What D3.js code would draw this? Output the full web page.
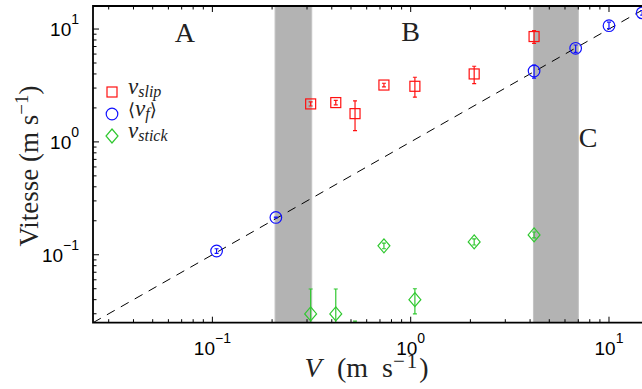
<!DOCTYPE html>
<html><head><meta charset="utf-8">
<script src="https://cdn.jsdelivr.net/npm/d3@7"></script>
<style>body{margin:0;background:#fff}svg{display:block}text{white-space:pre}</style>
</head><body>
<svg id="c" width="642" height="389"></svg>
<script>
// ---- data ----
const vfX = [0.105, 0.209, 4.19, 6.79, 10.0, 14.7];
const vfY = [0.108, 0.214, 4.25, 6.75, 10.7, 13.9];
const vfLo = [0.103, 0.212, 3.68, 6.22, 10.1, 13.3];
const vfHi = [0.113, 0.216, 4.8, 7.22, 11.5, 14.6];

const slipX = [0.313, 0.419, 0.524, 0.733, 1.05, 2.09, 4.19];
const slipY = [2.17, 2.23, 1.78, 3.19, 3.11, 4.0, 8.58];
const slipLo = [2.08, 2.13, 1.26, 3.07, 2.49, 3.28, 7.47];
const slipHi = [2.26, 2.33, 2.31, 3.31, 3.74, 4.68, 9.69];

const stickX = [0.313, 0.419, 0.524, 0.733, 1.05, 2.09, 4.19];
const stickY = [0.0299, 0.0299, 0.016, 0.120, 0.040, 0.130, 0.150];
const stickLo = [0.012, 0.012, 0.010, 0.113, 0.0299, 0.122, 0.141];
const stickHi = [0.0497, 0.0497, 0.0258, 0.127, 0.050, 0.138, 0.159];

const bands = [[0.207, 0.317], [4.16, 7.01]];
const regionLabels = ["A", "B", "C"];
const regionX = [0.0727, 1.0, 7.84];
const regionY = [7.6, 7.76, 0.90];

const xMajor = [0.1, 1, 10];
const xMajorExp = ["\u22121", "0", "1"];
const yMajor = [0.1, 1, 10];
const yMajorExp = ["\u22121", "0", "1"];
const xMinor = [0.03,0.04,0.05,0.06,0.07,0.08,0.09,0.2,0.3,0.4,0.5,0.6,0.7,0.8,0.9,2,3,4,5,6,7,8,9,20];
const yMinor = [0.03,0.04,0.05,0.06,0.07,0.08,0.09,0.2,0.3,0.4,0.5,0.6,0.7,0.8,0.9,2,3,4,5,6,7,8,9];

const xDomain = [0.025, 20];
const yDomain = [0.025, 16];

// ---- layout ----
const L = 93, T = 6, B = 322.7;
const decadeX = 198.3;
const R = L + Math.log10(xDomain[1] / xDomain[0]) * decadeX;

const x = d3.scaleLog().domain(xDomain).range([L, R]);
const y = d3.scaleLog().domain(yDomain).range([B, T]);

const svg = d3.select("#c");
svg.append("defs").append("clipPath").attr("id", "pc")
  .append("rect").attr("x", L).attr("y", T).attr("width", R - L).attr("height", B - T);

const plot = svg.append("g").attr("clip-path", "url(#pc)");

// bands
plot.selectAll("rect.band").data(bands).enter().append("rect")
  .attr("x", d => x(d[0])).attr("width", d => x(d[1]) - x(d[0]))
  .attr("y", T).attr("height", B - T)
  .attr("fill", "#b3b3b3").attr("stroke", "#c4c4c4").attr("stroke-width", 1);

// dashed y = x line
plot.append("line")
  .attr("x1", x(xDomain[0])).attr("y1", y(xDomain[0]))
  .attr("x2", x(20)).attr("y2", y(20))
  .attr("stroke", "#000").attr("stroke-width", 1)
  .attr("stroke-dasharray", "9,7");

function errBars(g, xs, lo, hi, color) {
  xs.forEach((xv, i) => {
    const cx = x(xv);
    g.append("line").attr("x1", cx).attr("x2", cx).attr("y1", y(lo[i])).attr("y2", y(hi[i]))
      .attr("stroke", color).attr("stroke-width", 1.2);
    [lo[i], hi[i]].forEach(v => {
      g.append("line").attr("x1", cx - 2).attr("x2", cx + 2).attr("y1", y(v)).attr("y2", y(v))
        .attr("stroke", color).attr("stroke-width", 1.2);
    });
  });
}

const red = "#ff1010", blue = "#1010ff", green = "#30c830";

// v_slip squares
const gs = plot.append("g");
errBars(gs, slipX, slipLo, slipHi, red);
slipX.forEach((xv, i) => {
  gs.append("rect").attr("x", x(xv) - 5).attr("y", y(slipY[i]) - 5).attr("width", 10).attr("height", 10)
    .attr("fill", "none").attr("stroke", red).attr("stroke-width", 1.2);
});

// v_f circles
const gc = plot.append("g");
errBars(gc, vfX, vfLo, vfHi, blue);
vfX.forEach((xv, i) => {
  gc.append("circle").attr("cx", x(xv)).attr("cy", y(vfY[i])).attr("r", 5.8)
    .attr("fill", "none").attr("stroke", blue).attr("stroke-width", 1.2);
});

// v_stick diamonds
const gd = plot.append("g");
errBars(gd, stickX, stickLo, stickHi, green);
stickX.forEach((xv, i) => {
  const cx = x(xv), cy = y(stickY[i]), r = 7;
  gd.append("path").attr("d", `M${cx},${cy - r}L${cx + r * 0.85},${cy}L${cx},${cy + r}L${cx - r * 0.85},${cy}Z`)
    .attr("fill", "none").attr("stroke", green).attr("stroke-width", 1.2);
});

const sf = "'Liberation Serif', 'DejaVu Serif', serif";

// region labels
plot.selectAll("text.reg").data(regionLabels).enter().append("text")
  .attr("x", (d, i) => x(regionX[i])).attr("y", (d, i) => y(regionY[i]))
  .attr("text-anchor", "middle")
  .style("font-family", sf).attr("font-size", 28)
  .attr("fill", "#222").text(d => d);

// axes frame & ticks
const ax = svg.append("g").attr("stroke", "#000");
ax.append("path").attr("d", `M${R},${T}H${L}V${B}H${R}`).attr("fill", "none").attr("stroke-width", 1.8);

function tick(xv, len, bottom) {
  const px = x(xv);
  if (bottom) ax.append("line").attr("x1", px).attr("x2", px).attr("y1", B).attr("y2", B - len).attr("stroke-width", 1);
  else ax.append("line").attr("x1", px).attr("x2", px).attr("y1", T).attr("y2", T + len).attr("stroke-width", 1);
}
xMajor.forEach(v => { tick(v, 6, true); tick(v, 6, false); });
xMinor.forEach(v => { tick(v, 3.5, true); tick(v, 3.5, false); });
yMajor.forEach(v => ax.append("line").attr("x1", L).attr("x2", L + 6).attr("y1", y(v)).attr("y2", y(v)).attr("stroke-width", 1));
yMinor.forEach(v => ax.append("line").attr("x1", L).attr("x2", L + 3.5).attr("y1", y(v)).attr("y2", y(v)).attr("stroke-width", 1));

// tick labels
const tf = "'Liberation Sans', Arial, sans-serif";
xMajor.forEach((v, i) => {
  const t = svg.append("text").attr("x", x(v)).attr("y", 355).attr("text-anchor", "middle")
    .style("font-family", tf).attr("font-size", 19).attr("fill", "#000");
  t.append("tspan").text("10");
  t.append("tspan").attr("dy", -12).attr("font-size", 14).text(xMajorExp[i]);
});
yMajor.forEach((v, i) => {
  const t = svg.append("text").attr("x", 79).attr("y", y(v) + 7).attr("text-anchor", "end")
    .style("font-family", tf).attr("font-size", 19).attr("fill", "#000");
  t.append("tspan").text("10");
  t.append("tspan").attr("dy", -12).attr("font-size", 14).text(yMajorExp[i]);
});

// axis titles
svg.append("text").attr("x", 313).attr("y", 377).attr("text-anchor", "middle")
  .style("font-family", sf).style("font-style", "italic").attr("font-size", 28).attr("fill", "#222").text("V");
const xt = svg.append("text").attr("x", 337).attr("y", 377)
  .style("font-family", sf).attr("font-size", 28).attr("fill", "#222");
xt.append("tspan").text("(m  s");
xt.append("tspan").attr("dy", -9).attr("font-size", 21).attr("letter-spacing", 2).text("\u22121");
xt.append("tspan").attr("dy", 9).text(")");

const yt = svg.append("text").attr("transform", "translate(38,166) rotate(-90)").attr("text-anchor", "middle")
  .style("font-family", sf).attr("font-size", 27).attr("fill", "#222");
yt.append("tspan").text("Vitesse (m s");
yt.append("tspan").attr("dy", -10).attr("font-size", 19).text("\u22121");
yt.append("tspan").attr("dy", 10).text(")");

// legend
const lg = svg.append("g");
const lx = 112, ly = [92, 114, 136];
lg.append("rect").attr("x", lx - 5).attr("y", ly[0] - 5).attr("width", 10).attr("height", 10)
  .attr("fill", "none").attr("stroke", red).attr("stroke-width", 1.2);
lg.append("circle").attr("cx", lx).attr("cy", ly[1]).attr("r", 5.8)
  .attr("fill", "none").attr("stroke", blue).attr("stroke-width", 1.2);
lg.append("path").attr("d", `M${lx},${ly[2] - 7}L${lx + 6},${ly[2]}L${lx},${ly[2] + 7}L${lx - 6},${ly[2]}Z`)
  .attr("fill", "none").attr("stroke", green).attr("stroke-width", 1.2);

const legendNames = [["v", "slip", "", ""], ["v", "f", "\u27E8", "\u27E9"], ["v", "stick", "", ""]];
legendNames.forEach((n, i) => {
  const t = lg.append("text").attr("x", 128).attr("y", ly[i] + 2)
    .style("font-family", sf).attr("font-size", 23).attr("fill", "#222");
  if (n[2]) t.append("tspan").style("font-family", "'DejaVu Serif', serif").attr("font-size", 18).text(n[2]);
  t.append("tspan").style("font-style", "italic").text(n[0]);
  t.append("tspan").style("font-style", "italic").attr("font-size", 16).attr("dy", 3).text(n[1]);
  if (n[3]) t.append("tspan").style("font-family", "'DejaVu Serif', serif").attr("font-size", 18).attr("dy", -3).text(n[3]);
});
</script>
</body></html>
